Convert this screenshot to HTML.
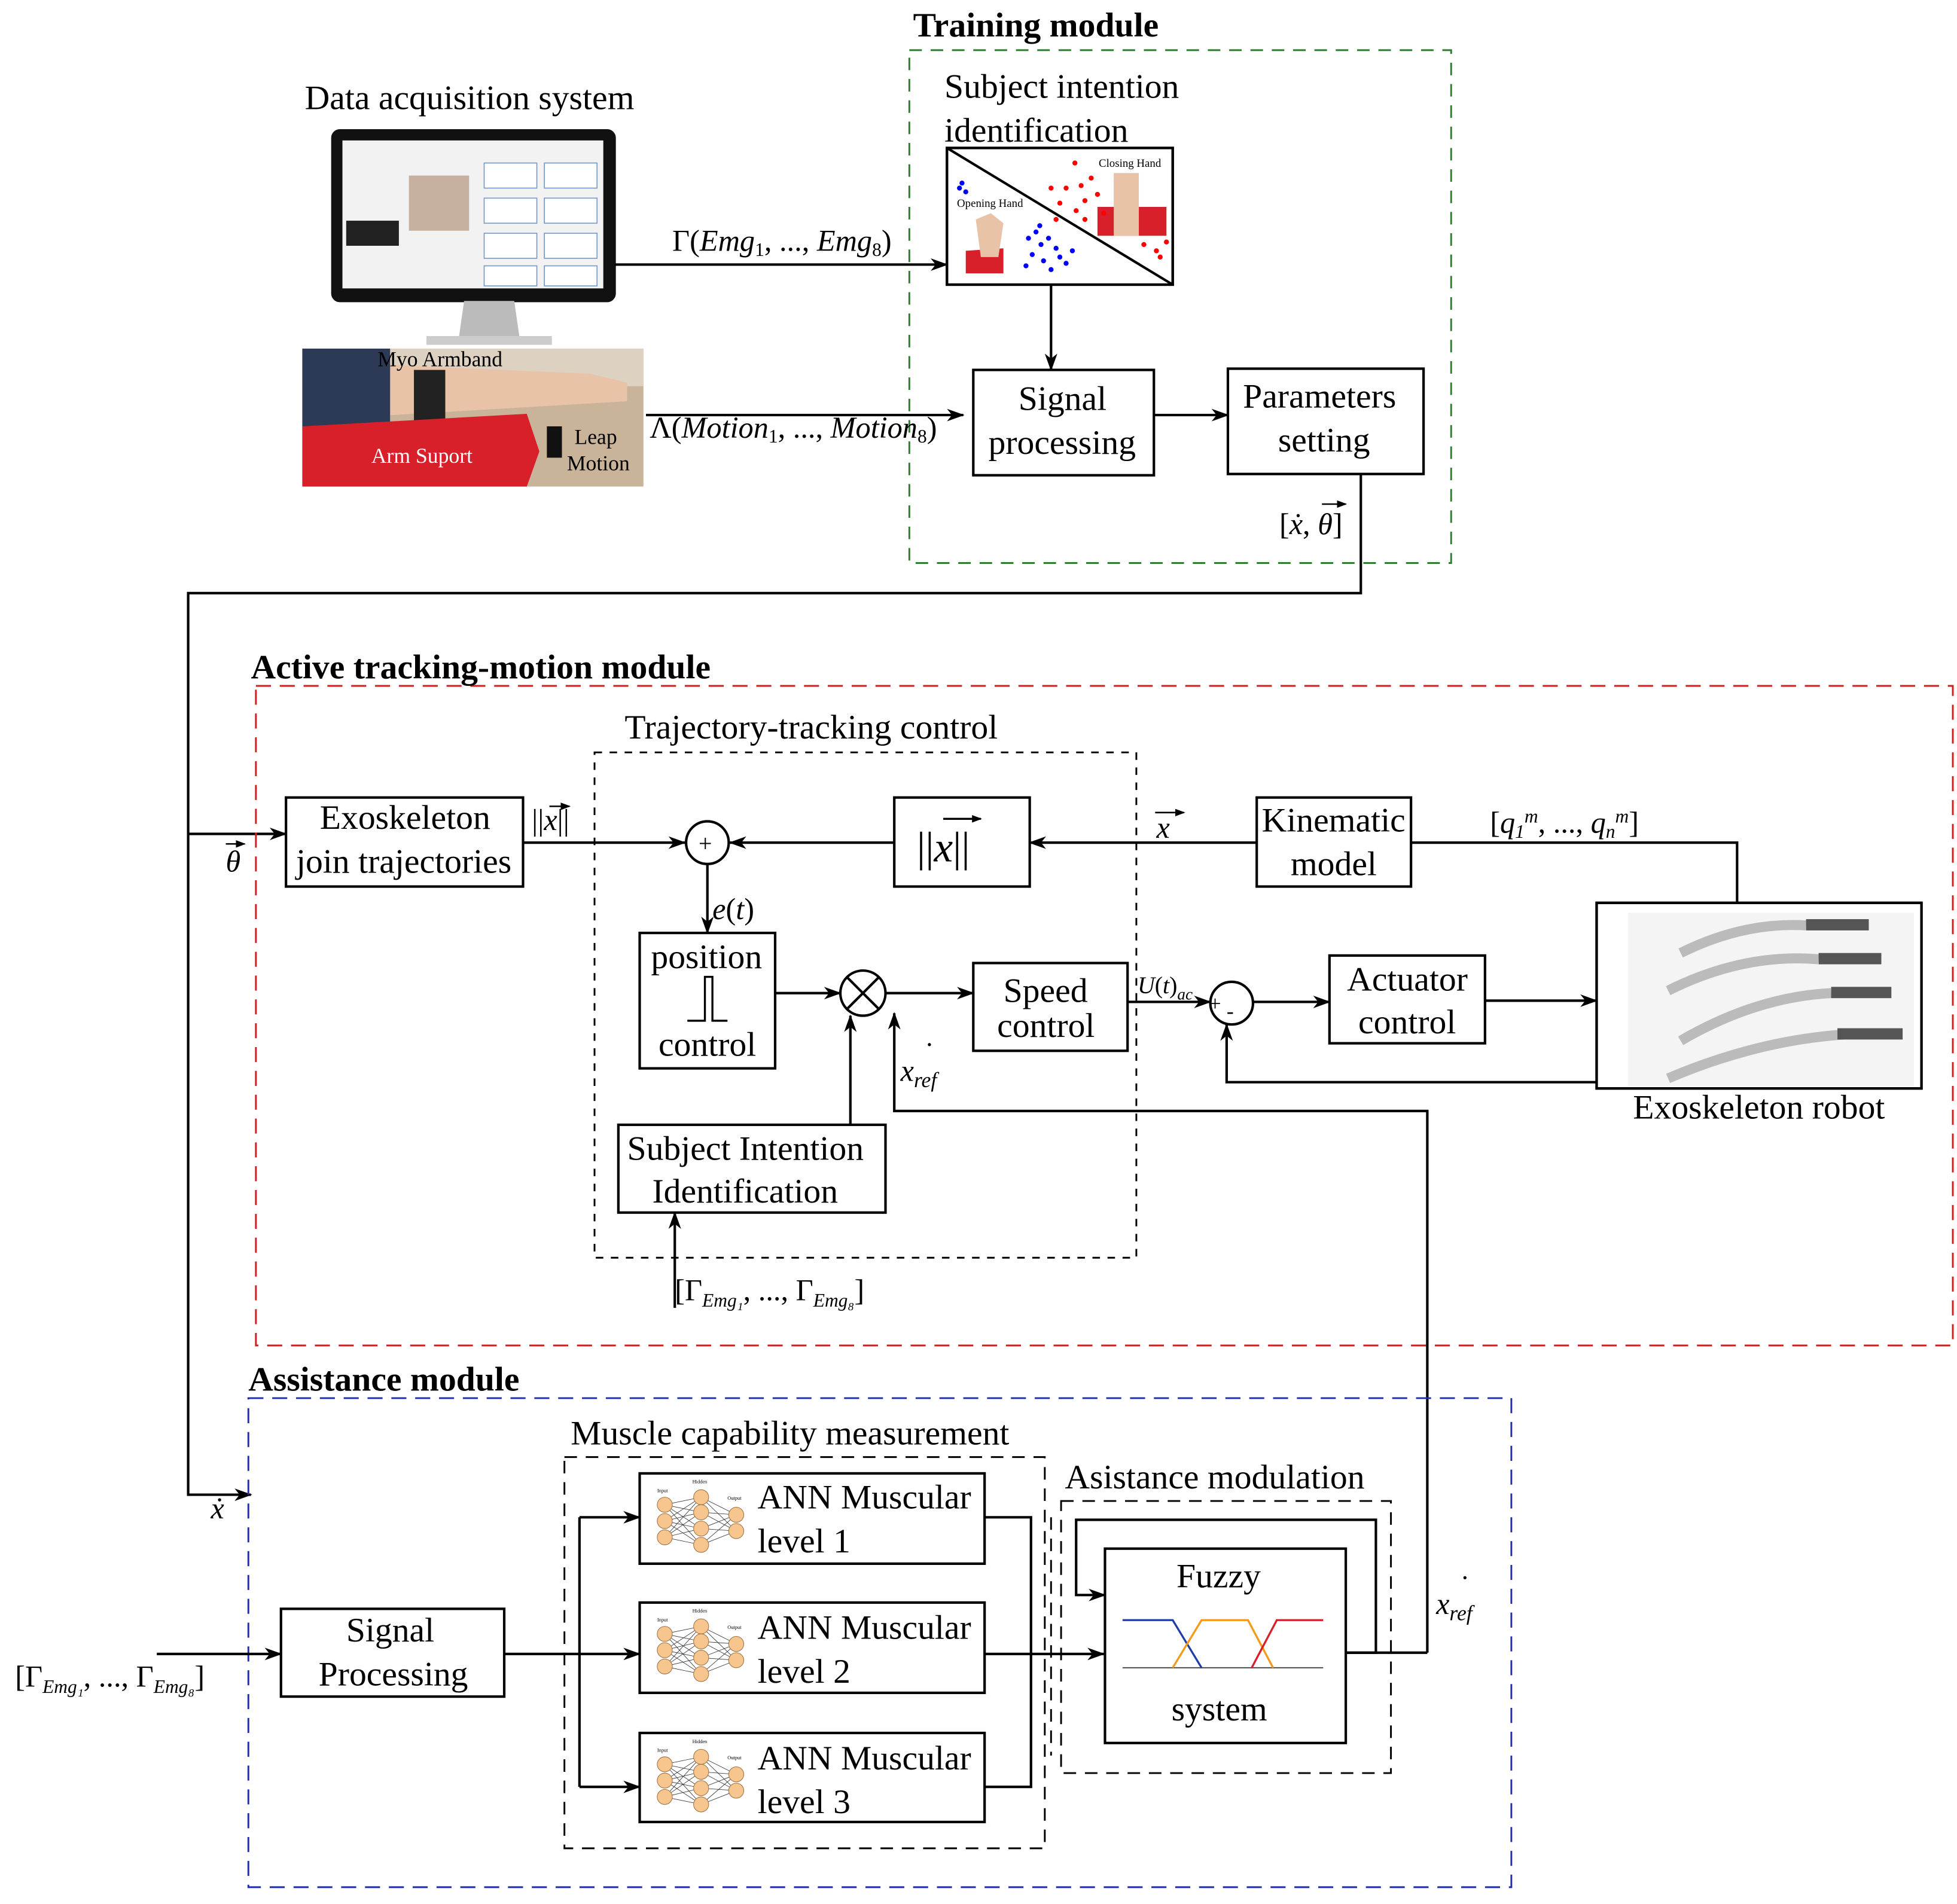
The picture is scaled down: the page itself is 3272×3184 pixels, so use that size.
<!DOCTYPE html>
<html><head><meta charset="utf-8">
<style>
html,body{margin:0;padding:0;background:#fff;}
svg{display:block;}
text{font-family:"Liberation Serif",serif;fill:#000;}
.b{font-weight:bold;}
</style></head>
<body>
<svg width="3272" height="3184" viewBox="0 0 1560.3 1518.4" xmlns="http://www.w3.org/2000/svg">
<defs>
<marker id="a" markerWidth="14" markerHeight="10" refX="13" refY="5" orient="auto" markerUnits="userSpaceOnUse">
<path d="M0,0 L14,5 L0,10 L4,5 z" fill="#000"/></marker>
<marker id="s" markerWidth="8" markerHeight="6" refX="7" refY="3" orient="auto" markerUnits="userSpaceOnUse">
<path d="M0,0 L8,3 L0,6 z" fill="#000"/></marker>
<g id="nn">
<g stroke="#333" stroke-width="0.4">
<path d="M16,14 L45,8 M16,14 L45,20 M16,14 L45,33 M16,14 L45,46 M16,27 L45,8 M16,27 L45,20 M16,27 L45,33 M16,27 L45,46 M16,40 L45,8 M16,40 L45,20 M16,40 L45,33 M16,40 L45,46 M45,8 L73,22 M45,20 L73,22 M45,33 L73,22 M45,46 L73,22 M45,8 L73,35 M45,20 L73,35 M45,33 L73,35 M45,46 L73,35"/>
</g>
<g fill="#f7c58e" stroke="#a07040" stroke-width="0.5">
<circle cx="16" cy="14" r="6"/><circle cx="16" cy="27" r="6"/><circle cx="16" cy="40" r="6"/>
<circle cx="45" cy="8" r="6"/><circle cx="45" cy="20" r="6"/><circle cx="45" cy="33" r="6"/><circle cx="45" cy="46" r="6"/>
<circle cx="73" cy="22" r="6"/><circle cx="73" cy="35" r="6"/>
</g>
<text x="10" y="4" font-size="4" font-family="Liberation Sans">Input</text>
<text x="38" y="-3" font-size="4" font-family="Liberation Sans">Hidden</text>
<text x="66" y="10" font-size="4" font-family="Liberation Sans">Output</text>
</g>
</defs>

<g fill="none" stroke="#000" stroke-width="2">
<rect x="725" y="40" width="432" height="409" stroke="#2e7d2e" stroke-width="1.4" stroke-dasharray="10,7"/>
<rect x="265" y="104" width="225" height="136" rx="6" fill="#111" stroke="#111"/>
<rect x="273" y="112" width="208" height="118" fill="#f2f2f2" stroke="none"/>
<path d="M370,240 L410,240 L414,268 L366,268 z" fill="#bbb" stroke="none"/>
<rect x="340" y="268" width="100" height="7" fill="#ccc" stroke="none"/>
<rect x="326" y="140" width="48" height="44" fill="#c8b0a0" stroke="none"/>
<rect x="276" y="176" width="42" height="20" fill="#222" stroke="none"/>
<g stroke="#7a9ac8" stroke-width="0.8">
<rect x="386" y="130" width="42" height="20" fill="#fff"/><rect x="434" y="130" width="42" height="20" fill="#fff"/>
<rect x="386" y="158" width="42" height="20" fill="#fff"/><rect x="434" y="158" width="42" height="20" fill="#fff"/>
<rect x="386" y="186" width="42" height="20" fill="#fff"/><rect x="434" y="186" width="42" height="20" fill="#fff"/>
<rect x="386" y="212" width="42" height="16" fill="#fff"/><rect x="434" y="212" width="42" height="16" fill="#fff"/>
</g>
<rect x="241" y="278" width="272" height="110" fill="#c9b49a" stroke="none"/>
<rect x="241" y="278" width="272" height="30" fill="#ddd2c2" stroke="none"/>
<path d="M241,285 L330,292 L470,298 L500,305 L500,320 L330,330 L241,335 z" fill="#e8c3a8" stroke="none"/>
<rect x="241" y="278" width="70" height="65" fill="#2c3a55" stroke="none"/>
<rect x="330" y="295" width="25" height="45" fill="#222" stroke="none"/>
<path d="M241,340 L420,330 L430,360 L420,388 L241,388 z" fill="#d8202a" stroke="none"/>
<rect x="436" y="340" width="12" height="25" fill="#111" stroke="none"/>

<line x1="490" y1="211" x2="755" y2="211" marker-end="url(#a)"/>
<line x1="515" y1="331" x2="768" y2="331" marker-end="url(#a)"/>
<rect x="755" y="118" width="180" height="109" fill="#fff"/>
<path d="M770,200 L800,198 L800,218 L770,218 z" fill="#d8202a" stroke="none"/>
<path d="M778,175 L790,170 L800,178 L796,205 L782,205 z" fill="#e8c3a8" stroke="none"/>
<path d="M875,165 L930,165 L930,188 L875,188 z" fill="#d8202a" stroke="none"/>
<rect x="888" y="138" width="20" height="50" fill="#e8c3a8" stroke="none"/>
<line x1="755" y1="118" x2="935" y2="227"/>
<g fill="#00f" stroke="none">
<circle cx="765" cy="150" r="2"/><circle cx="770" cy="153" r="2"/><circle cx="767" cy="146" r="2"/>
<circle cx="820" cy="190" r="2"/><circle cx="826" cy="185" r="2"/><circle cx="830" cy="195" r="2"/><circle cx="836" cy="190" r="2"/><circle cx="842" cy="198" r="2"/><circle cx="823" cy="203" r="2"/><circle cx="832" cy="208" r="2"/><circle cx="845" cy="205" r="2"/><circle cx="855" cy="200" r="2"/><circle cx="818" cy="212" r="2"/><circle cx="838" cy="215" r="2"/><circle cx="850" cy="210" r="2"/><circle cx="829" cy="180" r="2"/>
</g>
<g fill="#f00" stroke="none">
<circle cx="857" cy="130" r="2"/><circle cx="850" cy="150" r="2"/><circle cx="845" cy="162" r="2"/><circle cx="838" cy="150" r="2"/><circle cx="862" cy="148" r="2"/><circle cx="865" cy="160" r="2"/><circle cx="858" cy="168" r="2"/><circle cx="870" cy="142" r="2"/><circle cx="875" cy="155" r="2"/><circle cx="842" cy="175" r="2"/><circle cx="865" cy="175" r="2"/><circle cx="880" cy="170" r="2"/><circle cx="912" cy="195" r="2"/><circle cx="922" cy="200" r="2"/><circle cx="925" cy="205" r="2"/><circle cx="930" cy="193" r="2"/>
</g>
<rect x="755" y="118" width="180" height="109"/>
<line x1="838" y1="227" x2="838" y2="295" marker-end="url(#a)"/>
<rect x="776" y="295" width="144" height="84"/>
<line x1="920" y1="331" x2="979" y2="331" marker-end="url(#a)"/>
<rect x="979" y="294" width="156" height="84"/>
<polyline points="1085,378 1085,473 150,473 150,1192 200,1192" marker-end="url(#a)"/>
<line x1="150" y1="665" x2="228" y2="665" marker-end="url(#a)"/>

<rect x="204" y="547" width="1353" height="526" stroke="#cc1f1f" stroke-width="1.4" stroke-dasharray="12,7"/>
<rect x="474" y="600" width="432" height="403" stroke-width="1.4" stroke-dasharray="6,6"/>
<rect x="228" y="636" width="189" height="71"/>
<line x1="417" y1="672" x2="546" y2="672" marker-end="url(#a)"/>
<circle cx="564" cy="672" r="17"/>
<rect x="713" y="636" width="108" height="71"/>
<line x1="713" y1="672" x2="582" y2="672" marker-end="url(#a)"/>
<line x1="1002" y1="672" x2="821" y2="672" marker-end="url(#a)"/>
<rect x="1002" y="636" width="123" height="71"/>
<polyline points="1125,672 1385,672 1385,720"/>
<line x1="564" y1="689" x2="564" y2="744" marker-end="url(#a)"/>
<rect x="510" y="744" width="108" height="108"/>
<polyline points="548,814 562,814 562,779 568,779 568,814 580,814" stroke-width="1.6"/>
<line x1="618" y1="792" x2="670" y2="792" marker-end="url(#a)"/>
<circle cx="688" cy="792" r="18"/>
<line x1="675" y1="779" x2="701" y2="805"/><line x1="701" y1="779" x2="675" y2="805"/>
<line x1="706" y1="792" x2="776" y2="792" marker-end="url(#a)"/>
<rect x="776" y="768" width="123" height="70"/>
<line x1="899" y1="799" x2="965" y2="799" marker-end="url(#a)"/>
<circle cx="982" cy="800" r="17"/>
<line x1="999" y1="799" x2="1060" y2="799" marker-end="url(#a)"/>
<rect x="1060" y="762" width="124" height="70"/>
<line x1="1184" y1="798" x2="1273" y2="798" marker-end="url(#a)"/>
<rect x="1273" y="720" width="259" height="148" fill="#fff"/>
<rect x="1298" y="728" width="228" height="138" fill="#f4f4f4" stroke="none"/>
<g stroke="#bbb" stroke-width="8" fill="none">
<path d="M1340,760 Q1390,735 1440,738"/><path d="M1330,790 Q1390,760 1450,765"/><path d="M1340,830 Q1400,795 1460,792"/><path d="M1330,860 Q1400,830 1470,825"/>
</g>
<g fill="#555" stroke="none">
<rect x="1440" y="733" width="50" height="9"/><rect x="1450" y="760" width="50" height="9"/><rect x="1460" y="787" width="48" height="9"/><rect x="1465" y="820" width="52" height="9"/>
</g>
<rect x="1273" y="720" width="259" height="148"/>
<polyline points="1273,863 978,863 978,817" marker-end="url(#a)"/>
<rect x="493" y="897" width="213" height="70"/>
<line x1="678" y1="897" x2="678" y2="810" marker-end="url(#a)"/>
<line x1="538" y1="1043" x2="538" y2="967" marker-end="url(#a)"/>
<polyline points="1138,1318 1138,886 713,886 713,808" marker-end="url(#a)"/>

<rect x="198" y="1115" width="1007" height="390" stroke="#1f2fa8" stroke-width="1.4" stroke-dasharray="12,7"/>
<rect x="450" y="1162" width="383" height="312" stroke-width="1.4" stroke-dasharray="10,7"/>
<rect x="846" y="1197" width="263" height="217" stroke-width="1.4" stroke-dasharray="10,7"/>
<line x1="838" y1="1210" x2="838" y2="1400" stroke-width="1.4" stroke-dasharray="10,7"/>
<line x1="125" y1="1319" x2="224" y2="1319" marker-end="url(#a)"/>
<rect x="224" y="1283" width="178" height="70"/>
<line x1="402" y1="1319" x2="510" y2="1319" marker-end="url(#a)"/>
<line x1="462" y1="1210" x2="462" y2="1425"/>
<line x1="462" y1="1210" x2="510" y2="1210" marker-end="url(#a)"/>
<line x1="462" y1="1425" x2="510" y2="1425" marker-end="url(#a)"/>
<rect x="510" y="1175" width="275" height="72"/>
<rect x="510" y="1278" width="275" height="72"/>
<rect x="510" y="1382" width="275" height="71"/>
<polyline points="785,1210 822,1210 822,1425 785,1425"/>
<line x1="785" y1="1319" x2="880" y2="1319" marker-end="url(#a)"/>
<rect x="881" y="1235" width="192" height="155"/>
<polyline points="1073,1318 1097,1318 1097,1212 858,1212 858,1272 881,1272" marker-end="url(#a)"/>
<line x1="1073" y1="1318" x2="1138" y2="1318"/>
<g stroke-width="1.6">
<line x1="895" y1="1330" x2="1055" y2="1330" stroke="#555" stroke-width="1"/>
<polyline points="895,1292 935,1292 958,1330" stroke="#1f3fa8"/>
<polyline points="935,1330 958,1292 995,1292 1015,1330" stroke="#f39a1a"/>
<polyline points="998,1330 1018,1292 1055,1292" stroke="#d8202a"/>
</g>
<!-- vector arrows over letters -->
<g stroke-width="1.2">
<line x1="180" y1="673" x2="195" y2="673" marker-end="url(#s)"/>
<line x1="1054" y1="402" x2="1073" y2="402" marker-end="url(#s)"/>
<line x1="438" y1="643" x2="454" y2="643" marker-end="url(#s)"/>
<line x1="752" y1="653" x2="782" y2="653" marker-end="url(#s)" stroke-width="1.6"/>
<line x1="921" y1="648" x2="944" y2="648" marker-end="url(#s)"/>
</g>
</g>
<use href="#nn" x="514" y="1186"/>
<use href="#nn" x="514" y="1289"/>
<use href="#nn" x="514" y="1393"/>

<g font-size="27.5">
<text x="728" y="29" class="b">Training module</text>
<text x="243" y="87">Data acquisition system</text>
<text x="753" y="78">Subject intention</text>
<text x="753" y="113">identification</text>
<text x="812" y="327">Signal</text>
<text x="788" y="362">processing</text>
<text x="991" y="325">Parameters</text>
<text x="1019" y="360">setting</text>
<text x="200" y="541" class="b">Active tracking-motion module</text>
<text x="498" y="589">Trajectory-tracking control</text>
<text x="255" y="661">Exoskeleton</text>
<text x="236" y="696">join trajectories</text>
<text x="1006" y="663">Kinematic</text>
<text x="1029" y="698">model</text>
<text x="519" y="772">position</text>
<text x="525" y="842">control</text>
<text x="800" y="799">Speed</text>
<text x="795" y="827">control</text>
<text x="1074" y="790">Actuator</text>
<text x="1083" y="824">control</text>
<text x="1302" y="892">Exoskeleton robot</text>
<text x="500" y="925">Subject Intention</text>
<text x="520" y="959">Identification</text>
<text x="198" y="1109" class="b">Assistance module</text>
<text x="455" y="1152">Muscle capability measurement</text>
<text x="849" y="1187">Asistance modulation</text>
<text x="276" y="1309">Signal</text>
<text x="254" y="1344">Processing</text>
<text x="604" y="1203">ANN Muscular</text>
<text x="604" y="1238">level 1</text>
<text x="604" y="1307">ANN Muscular</text>
<text x="604" y="1342">level 2</text>
<text x="604" y="1411">ANN Muscular</text>
<text x="604" y="1446">level 3</text>
<text x="938" y="1266">Fuzzy</text>
<text x="934" y="1372">system</text>
</g>
<g font-size="17">
<text x="301" y="292">Myo Armband</text>
<text x="296" y="369" style="fill:#fff">Arm Suport</text>
<text x="458" y="354">Leap</text>
<text x="452" y="375">Motion</text>
</g>
<g font-size="9">
<text x="763" y="165">Opening Hand</text>
<text x="876" y="133">Closing Hand</text>
</g>
<g font-size="24" font-style="italic">
<text x="536" y="200"><tspan font-style="normal">Γ(</tspan>Emg<tspan font-size="15" dy="4" font-style="normal">1</tspan><tspan dy="-4" font-style="normal">, ..., </tspan>Emg<tspan font-size="15" dy="4" font-style="normal">8</tspan><tspan dy="-4" font-style="normal">)</tspan></text>
<text x="518" y="349"><tspan font-style="normal">Λ(</tspan>Motion<tspan font-size="15" dy="4" font-style="normal">1</tspan><tspan dy="-4" font-style="normal">, ..., </tspan>Motion<tspan font-size="15" dy="4" font-style="normal">8</tspan><tspan dy="-4" font-style="normal">)</tspan></text>
<text x="1020" y="426"><tspan font-style="normal">[</tspan>ẋ<tspan font-style="normal">, </tspan>θ<tspan font-style="normal">]</tspan></text>
<text x="424" y="662" font-style="normal">||<tspan font-style="italic">x</tspan>||</text>
<text x="180" y="695">θ</text>
<text x="731" y="687" font-size="34" font-style="normal">||<tspan font-style="italic">x</tspan>||</text>
<text x="922" y="668">x</text>
<text x="1188" y="664"><tspan font-style="normal">[</tspan>q<tspan font-size="15" dy="4">1</tspan><tspan font-size="15" dy="-12">m</tspan><tspan dy="8" font-style="normal">, ..., </tspan>q<tspan font-size="15" dy="4">n</tspan><tspan font-size="15" dy="-12">m</tspan><tspan dy="8" font-style="normal">]</tspan></text>
<text x="568" y="733">e<tspan font-style="normal">(</tspan>t<tspan font-style="normal">)</tspan></text>
<text x="907" y="792" font-size="19">U<tspan font-style="normal">(</tspan>t<tspan font-style="normal">)</tspan><tspan font-size="13" dy="5">ac</tspan></text>
<text x="964" y="806" font-size="17" font-style="normal">+</text>
<text x="978" y="812" font-size="17" font-style="normal">-</text>
<text x="718" y="862">x<tspan font-size="17" dy="5">ref</tspan></text>
<text x="737" y="848" font-style="normal">˙</text>
<text x="538" y="1037"><tspan font-style="normal">[Γ</tspan><tspan font-size="15" dy="5">Emg₁</tspan><tspan dy="-5" font-style="normal">, ..., Γ</tspan><tspan font-size="15" dy="5">Emg₈</tspan><tspan dy="-5" font-style="normal">]</tspan></text>
<text x="12" y="1345"><tspan font-style="normal">[Γ</tspan><tspan font-size="15" dy="5">Emg₁</tspan><tspan dy="-5" font-style="normal">, ..., Γ</tspan><tspan font-size="15" dy="5">Emg₈</tspan><tspan dy="-5" font-style="normal">]</tspan></text>
<text x="168" y="1211">ẋ</text>
<text x="1145" y="1287">x<tspan font-size="17" dy="5">ref</tspan></text>
<text x="1164" y="1273" font-style="normal">˙</text>
</g>
<text x="557" y="679" font-size="19">+</text>
</svg>
</body></html>
